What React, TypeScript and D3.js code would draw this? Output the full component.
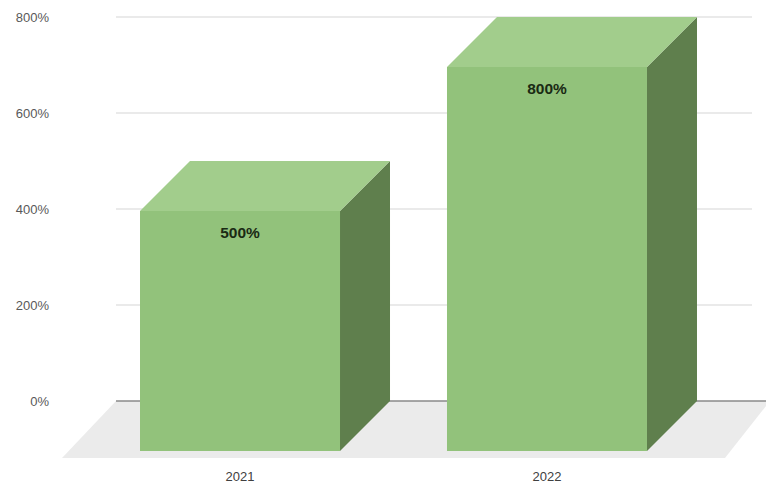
import React from "react";
import * as d3 from "d3";

const categories = ["2021", "2022"];
const values = [500, 800];
const dataLabels = ["500%", "800%"];
const yTicks = [0, 200, 400, 600, 800];

const W = 766;
const H = 485;
const DX = 50;
const DY = 50;

export default function App() {
  const y = d3.scaleLinear().domain([0, 800]).range([401, 17]);
  const x = d3
    .scaleBand<string>()
    .domain(categories)
    .range([86.5, 700.5])
    .paddingInner(0.3485)
    .paddingOuter(0.1743);
  const bw = x.bandwidth();
  const y0 = y(0);
  const floor = [
    [116, y0],
    [770, y0],
    [725, y0 + 57],
    [62, y0 + 57],
  ];
  return (
    <svg
      width={W}
      height={H}
      style={{ position: "absolute", left: 0, top: 0, background: "#fff" }}
      fontFamily="'Liberation Sans', Arial, sans-serif"
    >
      <polygon points={floor.map((p) => p.join(",")).join(" ")} fill="#ebebeb" />
      {yTicks.map((t) => (
        <g key={t}>
          {t !== 0 && (
            <line x1={116} x2={752} y1={y(t)} y2={y(t)} stroke="#e3e3e3" strokeWidth={1.5} />
          )}
          <text x={49} y={y(t)} dy="0.35em" textAnchor="end" fontSize={13} fill="#595959">
            {t + "%"}
          </text>
        </g>
      ))}
      <line x1={116} x2={766} y1={y0} y2={y0} stroke="#8a8a8a" strokeWidth={1.5} />
      {categories.map((c, i) => {
        const x0 = x(c)!;
        const x1 = x0 + bw;
        const top = y(values[i]) + DY;
        const bot = y0 + DY;
        const front = `${x0},${top} ${x1},${top} ${x1},${bot} ${x0},${bot}`;
        const side = `${x1},${top} ${x1 + DX},${top - DY} ${x1 + DX},${bot - DY} ${x1},${bot}`;
        const topFace = `${x0},${top} ${x0 + DX},${top - DY} ${x1 + DX},${top - DY} ${x1},${top}`;
        return (
          <g key={c}>
            <polygon points={side} fill="#5f7f4d" />
            <polygon points={topFace} fill="#a2cd8c" />
            <polygon points={front} fill="#92c27b" />
            <text
              x={x0 + bw / 2}
              y={top + 22}
              dy="0.35em"
              textAnchor="middle"
              fontSize={15.5}
              fontWeight="bold"
              fill="#1a2a14"
            >
              {dataLabels[i]}
            </text>
            <text x={x0 + bw / 2} y={476} dy="0.35em" textAnchor="middle" fontSize={13} fill="#404040">
              {c}
            </text>
          </g>
        );
      })}
    </svg>
  );
}
